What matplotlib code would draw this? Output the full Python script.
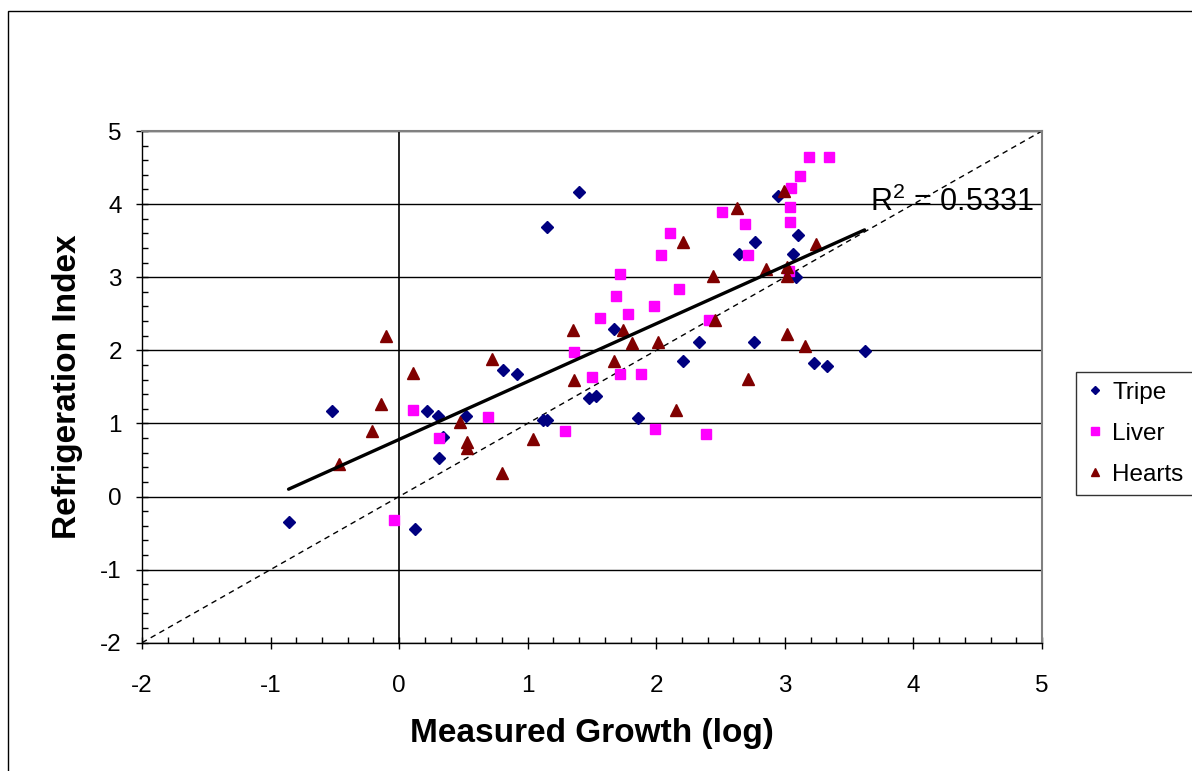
import numpy as np
import matplotlib
matplotlib.use("Agg")
import matplotlib.pyplot as plt
from matplotlib.ticker import MultipleLocator

plt.rcParams['font.family'] = ['Liberation Sans', 'DejaVu Sans']
plt.rcParams['mathtext.fontset'] = 'custom'
plt.rcParams['mathtext.rm'] = 'Liberation Sans'
plt.rcParams['axes.unicode_minus'] = False

# values
tripe_x = [-0.86, -0.52, 0.12, 0.22, 0.30, 0.31, 0.34, 0.52, 0.81, 0.92,
           1.12, 1.15, 1.15, 1.40, 1.48, 1.53, 1.67, 1.86, 2.21, 2.33,
           2.64, 2.76, 2.77, 2.95, 3.06, 3.09, 3.10, 3.23, 3.33, 3.62]
tripe_y = [-0.35, 1.17, -0.45, 1.17, 1.10, 0.52, 0.82, 1.10, 1.73, 1.68,
           1.04, 1.05, 3.69, 4.16, 1.35, 1.37, 2.29, 1.08, 1.85, 2.11,
           3.32, 2.11, 3.48, 4.11, 3.32, 3.00, 3.58, 1.83, 1.79, 1.99]

liver_x = [-0.04, 0.11, 0.31, 0.69, 1.29, 1.36, 1.50, 1.56, 1.69, 1.72,
           1.72, 1.78, 1.88, 1.98, 1.99, 2.04, 2.11, 2.18, 2.39, 2.41,
           2.51, 2.69, 2.71, 3.03, 3.04, 3.04, 3.05, 3.12, 3.19, 3.34]
liver_y = [-0.32, 1.18, 0.80, 1.09, 0.90, 1.97, 1.64, 2.44, 2.74, 3.05,
           1.67, 2.49, 1.67, 2.60, 0.92, 3.31, 3.61, 2.84, 0.85, 2.42,
           3.89, 3.73, 3.31, 3.08, 3.75, 3.96, 4.22, 4.39, 4.65, 4.65]

hearts_x = [-0.47, -0.21, -0.14, -0.10, 0.11, 0.47, 0.53, 0.53, 0.72, 0.80,
            1.04, 1.35, 1.36, 1.67, 1.74, 1.81, 2.01, 2.15, 2.21, 2.44,
            2.46, 2.63, 2.71, 2.85, 2.99, 3.02, 3.02, 3.02, 3.16, 3.24]
hearts_y = [0.44, 0.90, 1.26, 2.19, 1.69, 1.02, 0.74, 0.67, 1.88, 0.32,
            0.78, 2.28, 1.60, 1.86, 2.28, 2.10, 2.12, 1.19, 3.48, 3.01,
            2.42, 3.95, 1.61, 3.11, 4.18, 3.14, 3.02, 2.22, 2.06, 3.45]

r2_text = r"R$^{2}$ = 0.5331"

fig = plt.figure(figsize=(11.92, 7.71), dpi=100)
ax = fig.add_axes([142/1192, 1 - 642.7/771, 900/1192, 511.7/771])

# grid + reference lines
for yv in range(-2, 6):
    ax.axhline(yv, color='black', lw=1, zorder=1)
ax.axvline(0, color='black', lw=1.2, zorder=1)
ax.plot([-2, 5], [-2, 5], color='black', lw=1, ls=(0, (4, 3.2)), zorder=2)

# trend line over all points
all_x = np.array(tripe_x + liver_x + hearts_x)
all_y = np.array(tripe_y + liver_y + hearts_y)
m, b = np.polyfit(all_x, all_y, 1)
tx = np.array([all_x.min(), all_x.max()])
ax.plot(tx, m * tx + b, color='black', lw=2.4, zorder=4, solid_capstyle='round')

ax.plot(tripe_x, tripe_y, ls='none', marker='D', ms=5.8, color='#000080', label='Tripe', zorder=3)
ax.plot(liver_x, liver_y, ls='none', marker='s', ms=7.4, color='#FF00FF', label='Liver', zorder=3)
ax.plot(hearts_x, hearts_y, ls='none', marker='^', ms=8.8, color='#800000', label='Hearts', zorder=3)

ax.text(3.66, 3.91, r2_text, fontsize=22, va='baseline', ha='left', zorder=5)

ax.set_xlim(-2, 5)
ax.set_ylim(-2, 5)
ax.xaxis.set_major_locator(MultipleLocator(1))
ax.yaxis.set_major_locator(MultipleLocator(1))
ax.xaxis.set_minor_locator(MultipleLocator(0.2))
ax.yaxis.set_minor_locator(MultipleLocator(0.2))
ax.tick_params(which='major', direction='inout', length=9, width=1, labelsize=17.5)
ax.tick_params(which='minor', direction='in', length=4.5, width=1)
ax.tick_params(axis='x', which='major', pad=19)
ax.tick_params(axis='y', which='major', pad=10)

for s in ['top', 'right']:
    ax.spines[s].set_color('#808080')
    ax.spines[s].set_linewidth(1.5)
for s in ['left', 'bottom']:
    ax.spines[s].set_color('black')
    ax.spines[s].set_linewidth(1)

ax.set_xlabel('Measured Growth (log)', fontsize=24, fontweight='bold')
ax.set_ylabel('Refrigeration Index', fontsize=24, fontweight='bold')
ax.xaxis.set_label_coords(0.5, -0.148)
ax.yaxis.set_label_coords(-0.065, 0.5)

leg = fig.legend(loc='upper left', bbox_to_anchor=(1076/1192, 1 - 372/771),
                 fontsize=17.5, frameon=True, fancybox=False, edgecolor='black',
                 borderaxespad=0, borderpad=0.4, handlelength=0.8,
                 handletextpad=0.3, labelspacing=0.78, markerscale=0.7)
leg.get_frame().set_linewidth(1)

# chart area border
fig.add_artist(plt.Rectangle((8/1192, -0.1), 1.2, 1.1 - 11/771, transform=fig.transFigure,
                             fill=False, edgecolor='black', lw=1))

fig.savefig('out.png', dpi=100)
